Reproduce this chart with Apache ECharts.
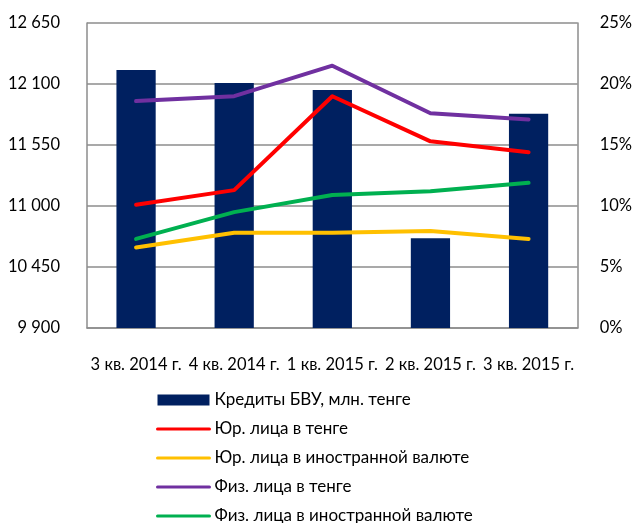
<!DOCTYPE html>
<html>
<head>
<meta charset="utf-8">
<script src="https://cdn.jsdelivr.net/npm/echarts@6/dist/echarts.min.js"></script>
<style>
  html, body { margin: 0; padding: 0; background: #fff; }
  #chart { width: 635px; height: 523px; }
</style>
</head>
<body>
<div id="chart"></div>
<script>
// Quarters on the horizontal axis
var quarters = ['3 кв. 2014 г.', '4 кв. 2014 г.', '1 кв. 2015 г.', '2 кв. 2015 г.', '3 кв. 2015 г.'];

// Bank loans, mln tenge (left axis)
var loansBVU = [12226, 12109, 12046, 10709, 11832];

// Interest rates, % (right axis)
var legalTenge = [10.1, 11.3, 19.0, 15.3, 14.4];
var legalForeign = [6.6, 7.8, 7.8, 7.95, 7.3];
var personalTenge = [18.6, 19.0, 21.5, 17.6, 17.1];
var personalForeign = [7.3, 9.5, 10.9, 11.2, 11.9];

// Axis ranges and steps
var leftMin = 9900, leftMax = 12650, leftStep = 550;
var rightMin = 0, rightMax = 25, rightStep = 5;

var seriesNames = [
  'Кредиты БВУ, млн. тенге',
  'Юр. лица в тенге',
  'Юр. лица в иностранной валюте',
  'Физ. лица в тенге',
  'Физ. лица в иностранной валюте'
];
var colors = ['#002060', '#FF0000', '#FFC000', '#7030A0', '#00B050'];

var fontFamily = 'Lato, "Noto Sans", sans-serif';
var gridColor = '#8C8C8C';

function fmtThousands(v) {
  var s = String(Math.round(v));
  return s.replace(/\B(?=(\d{3})+(?!\d))/g, ' ');
}

function lineSeries(name, data, color) {
  return {
    name: name,
    type: 'line',
    yAxisIndex: 1,
    data: data,
    symbol: 'none',
    smooth: false,
    lineStyle: { color: color, width: 4, cap: 'round', join: 'round' },
    itemStyle: { color: color },
    z: 3
  };
}

// Legend entries for the rate lines: plain line, no marker
function lineLegend(name) {
  return { name: name, lineStyle: { width: 3 }, itemStyle: { opacity: 0 } };
}

var chart = echarts.init(document.getElementById('chart'), null, { renderer: 'canvas' });

chart.setOption({
  animation: false,
  backgroundColor: '#ffffff',
  color: colors,
  textStyle: { fontFamily: fontFamily },
  grid: { left: 87, right: 55, top: 23, bottom: 195, containLabel: false },
  legend: {
    orient: 'vertical',
    left: 156,
    top: 391,
    height: 300,
    padding: 0,
    itemWidth: 52,
    itemHeight: 11,
    itemGap: 11,
    textStyle: { fontSize: 17, color: '#000', fontFamily: fontFamily, lineHeight: 18 },
    data: [
      { name: seriesNames[0], icon: 'rect' },
      lineLegend(seriesNames[1]),
      lineLegend(seriesNames[2]),
      lineLegend(seriesNames[3]),
      lineLegend(seriesNames[4])
    ]
  },
  xAxis: {
    type: 'category',
    data: quarters,
    axisLine: { show: true, lineStyle: { color: gridColor, width: 1.5 } },
    axisTick: { show: false },
    axisLabel: { interval: 0, margin: 28, fontSize: 16.5, color: '#000', fontFamily: fontFamily }
  },
  yAxis: [
    {
      type: 'value',
      min: leftMin,
      max: leftMax,
      interval: leftStep,
      axisLine: { show: true, lineStyle: { color: gridColor, width: 1.5 } },
      axisTick: { show: false },
      splitLine: { show: true, lineStyle: { color: gridColor, width: 1.5 } },
      axisLabel: { margin: 27, fontSize: 16.5, color: '#000', fontFamily: fontFamily, formatter: fmtThousands }
    },
    {
      type: 'value',
      min: rightMin,
      max: rightMax,
      interval: rightStep,
      position: 'right',
      axisLine: { show: true, lineStyle: { color: gridColor, width: 1.5 } },
      axisTick: { show: false },
      splitLine: { show: false },
      axisLabel: { margin: 22, fontSize: 16.5, color: '#000', fontFamily: fontFamily, formatter: '{value}%' }
    }
  ],
  series: [
    {
      name: seriesNames[0],
      type: 'bar',
      yAxisIndex: 0,
      data: loansBVU,
      barWidth: '40%',
      itemStyle: { color: colors[0] },
      z: 2
    },
    lineSeries(seriesNames[1], legalTenge, colors[1]),
    lineSeries(seriesNames[2], legalForeign, colors[2]),
    lineSeries(seriesNames[3], personalTenge, colors[3]),
    lineSeries(seriesNames[4], personalForeign, colors[4])
  ]
});
</script>
</body>
</html>
